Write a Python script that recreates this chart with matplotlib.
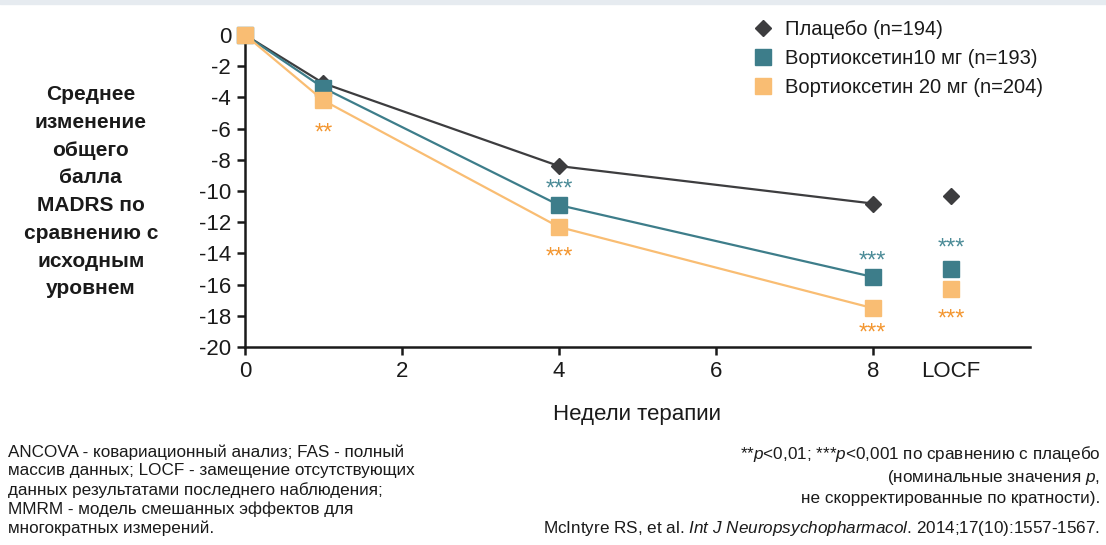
import matplotlib
matplotlib.use('Agg')
import matplotlib.pyplot as plt

# данные
weeks = [0, 1, 4, 8]
locf_x = 9
placebo = [0, -3.1, -8.4, -10.8]
placebo_locf = -10.3
vort10 = [0, -3.4, -10.9, -15.5]
vort10_locf = -15.0
vort20 = [0, -4.2, -12.3, -17.5]
vort20_locf = -16.3
labels = ['Плацебо (n=194)', 'Вортиоксетин10 мг (n=193)', 'Вортиоксетин 20 мг (n=204)']
xticks = [0, 2, 4, 6, 8]
yticks = list(range(0, -21, -2))

c_pl = '#3d3d3f'
c_10 = '#3d7d8a'
c_20 = '#f9bd73'
c_st10 = '#4b8b97'
c_st20 = '#f39630'
c_txt = '#1a1a1a'

plt.rcParams['font.family'] = ['Liberation Sans', 'DejaVu Sans']
plt.rcParams['axes.unicode_minus'] = False
plt.rcParams['mathtext.fontset'] = 'custom'
plt.rcParams['mathtext.rm'] = 'Liberation Sans'
plt.rcParams['mathtext.it'] = 'Liberation Sans:italic'

fig = plt.figure(figsize=(11.06, 5.45), dpi=100)
fig.patches.append(plt.Rectangle((0, 0.993), 1, 0.007, transform=fig.transFigure,
                                 color='#e6ebf0', zorder=0))
ax = fig.add_axes([0.2215, 0.363, 0.7095, 0.573])

ax.plot(weeks, placebo, color=c_pl, lw=1.6, marker='D', ms=8.5, clip_on=False, zorder=3)
ax.plot(weeks, vort10, color=c_10, lw=1.6, marker='s', ms=11, clip_on=False, zorder=4)
ax.plot(weeks, vort20, color=c_20, lw=1.6, marker='s', ms=11, clip_on=False, zorder=5)
ax.plot([locf_x], [placebo_locf], ls='none', color=c_pl, marker='D', ms=8.5)
ax.plot([locf_x], [vort10_locf], ls='none', color=c_10, marker='s', ms=11)
ax.plot([locf_x], [vort20_locf], ls='none', color=c_20, marker='s', ms=11)

# звёздочки значимости
def stars(x, y, s, col, dy):
    ax.annotate(s, (x, y), xytext=(0, dy), textcoords='offset points',
                ha='center', va='center', color=col, fontsize=17)

stars(weeks[1], vort20[1], '**', c_st20, -24)
stars(weeks[2], vort10[2], '***', c_st10, 11)
stars(weeks[2], vort20[2], '***', c_st20, -22)
stars(weeks[3], vort10[3], '***', c_st10, 11)
stars(weeks[3], vort20[3], '***', c_st20, -18)
stars(locf_x, vort10_locf, '***', c_st10, 15)
stars(locf_x, vort20_locf, '***', c_st20, -22)

ax.set_xlim(0, 10)
ax.set_ylim(-20, 0)
ax.set_xticks(xticks)
ax.set_yticks(yticks)
ax.set_yticklabels([str(v) for v in yticks])
ax.annotate('LOCF', (locf_x, -20), xytext=(0, -10), textcoords='offset points',
            ha='center', va='top', fontsize=16, color=c_txt)
for s in ['top', 'right']:
    ax.spines[s].set_visible(False)
for s in ['left', 'bottom']:
    ax.spines[s].set_linewidth(1.8)
    ax.spines[s].set_color(c_txt)
ax.tick_params(axis='both', direction='out', length=6, width=1.8, labelsize=16,
               color=c_txt, labelcolor=c_txt, pad=4)
ax.set_xlabel('Недели терапии', fontsize=16, labelpad=16, color=c_txt)

leg = ax.legend([plt.Line2D([], [], ls='none', marker='D', ms=8.5, color=c_pl),
                 plt.Line2D([], [], ls='none', marker='s', ms=11, color=c_10),
                 plt.Line2D([], [], ls='none', marker='s', ms=11, color=c_20)],
                labels, loc='upper left', bbox_to_anchor=(0.622, 1.105), frameon=False,
                fontsize=14.5, handletextpad=0.5, labelspacing=0.5, handlelength=1.2)
for t in leg.get_texts():
    t.set_color(c_txt)

fig.text(0.082, 0.648, 'Среднее\nизменение\nобщего\nбалла\nMADRS по\nсравнению с\nисходным\nуровнем',
         ha='center', va='center', fontsize=15, fontweight='bold', linespacing=1.58,
         color=c_txt)

fig.text(0.007, 0.185, 'ANCOVA - ковариационный анализ; FAS - полный\n'
         'массив данных; LOCF - замещение отсутствующих\n'
         'данных результатами последнего наблюдения;\n'
         'MMRM - модель смешанных эффектов для\n'
         'многократных измерений.',
         ha='left', va='top', fontsize=12.3, linespacing=1.3, color=c_txt)
fig.text(0.995, 0.185, r'**$\it{p}$<0,01; ***$\it{p}$<0,001 по сравнению с плацебо' '\n'
         r'(номинальные значения $\it{p}$,' '\n'
         'не скорректированные по кратности).',
         ha='right', va='top', fontsize=12.3, linespacing=1.3, color=c_txt)
fig.text(0.995, 0.031, r'McIntyre RS, et al. $\it{Int\ J\ Neuropsychopharmacol}$. 2014;17(10):1557-1567.',
         ha='right', va='center', fontsize=12.3, color=c_txt)

fig.savefig('out.png', dpi=100, facecolor='white')
